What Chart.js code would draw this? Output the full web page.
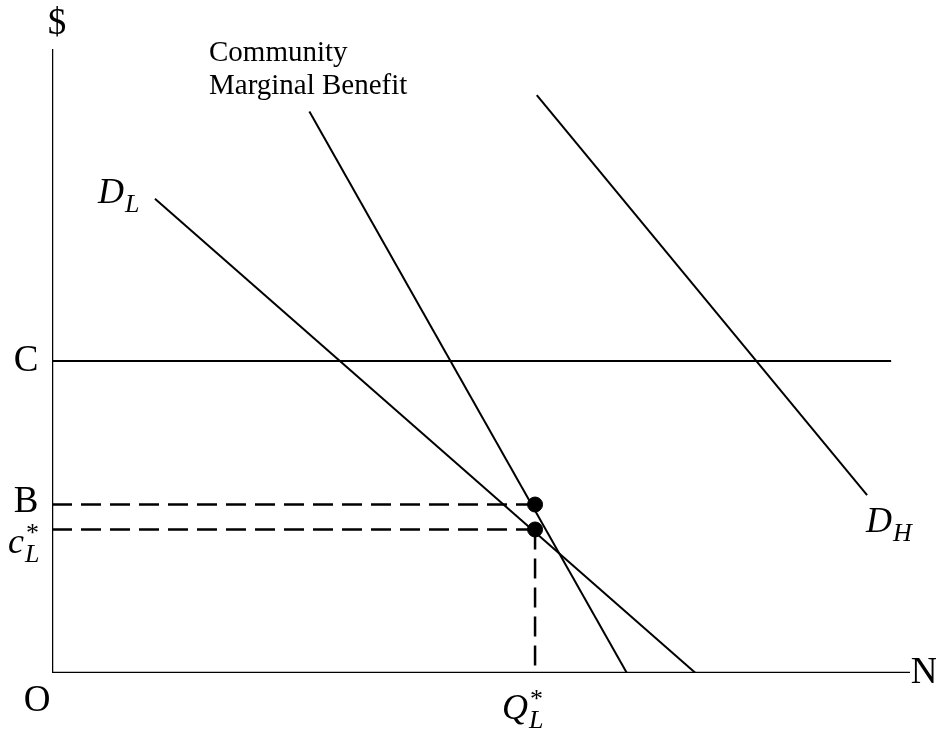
<!DOCTYPE html>
<html>
<head>
<meta charset="utf-8">
<title>Comunidade - benefício marginal</title>
<script src="https://cdn.jsdelivr.net/npm/chart.js@4.4.1/dist/chart.umd.min.js"></script>
<style>
    body { margin: 0; background: #fff; }
    canvas { display: block; }
</style>
</head>
<body>
<canvas id="grafico" width="936" height="732"></canvas>
<script>
// valores do diagrama (escala 0-100 nos dois eixos)
const custoC = 50;
const valorB = 27;
const precoL = 23;
const quantL = 56.3;

const demandaBaixa = [{ x: 12, y: 76 }, { x: 75, y: 0 }];
const beneficioComunidade = [{ x: 30, y: 90 }, { x: 67, y: 0 }];
const demandaAlta = [{ x: 56.5, y: 92.6 }, { x: 95, y: 28.5 }];
const linhaCusto = [{ x: 0, y: custoC }, { x: 97.8, y: custoC }];

const eixoY = [{ x: 0, y: 0 }, { x: 0, y: 100 }];
const eixoX = [{ x: 0, y: 0 }, { x: 100, y: 0 }];

const serif = '"Liberation Serif", "DejaVu Serif", serif';

function linha(dados, extra) {
    return Object.assign({
        data: dados,
        showLine: true,
        borderColor: '#000',
        borderWidth: 2,
        pointRadius: 0,
        fill: false,
        tension: 0
    }, extra || {});
}

// escreve texto com subscrito / sobrescrito (estilo matemático)
function textoMat(ctx, x, y, base, sub, sup, tam) {
    ctx.font = 'italic ' + tam + 'px ' + serif;
    ctx.textBaseline = 'alphabetic';
    ctx.textAlign = 'left';
    ctx.fillText(base, x, y);
    const w = ctx.measureText(base).width;
    const tamSub = Math.round(tam * 0.72);
    ctx.font = 'italic ' + tamSub + 'px ' + serif;
    if (sub) ctx.fillText(sub, x + w + 1, y + tam * 0.25);
    if (sup) {
        ctx.font = tamSub + 'px ' + serif;
        ctx.fillText(sup, x + w + 2, y - tam * 0.32);
    }
}

const rotulos = {
    id: 'rotulos',
    afterDraw(chart) {
        const ctx = chart.ctx;
        const sx = chart.scales.x;
        const sy = chart.scales.y;
        const px = v => sx.getPixelForValue(v);
        const py = v => sy.getPixelForValue(v);

        ctx.save();
        ctx.fillStyle = '#000';

        ctx.font = '37px ' + serif;
        ctx.textAlign = 'center';
        ctx.textBaseline = 'middle';
        ctx.fillText('$', px(0) + 5, 24);
        ctx.fillText('N', px(100) + 14, py(0));
        ctx.fillText('O', px(0) - 15, py(0) + 28);
        ctx.fillText('C', px(0) - 26, py(custoC));
        ctx.fillText('B', px(0) - 26, py(valorB) - 2);

        ctx.font = '29px ' + serif;
        ctx.textAlign = 'left';
        ctx.textBaseline = 'alphabetic';
        ctx.fillText('Community', 209, 61);
        ctx.fillText('Marginal Benefit', 209, 94);

        textoMat(ctx, 98, 203, 'D', 'L', null, 36);
        textoMat(ctx, 866, 532, 'D', 'H', null, 36);
        textoMat(ctx, 8, 553, 'c', 'L', '*', 36);
        textoMat(ctx, 502, 719, 'Q', 'L', '*', 36);

        ctx.restore();
    }
};

new Chart(document.getElementById('grafico'), {
    type: 'scatter',
    data: {
        datasets: [
            linha(eixoY, { borderWidth: 2.5 }),
            linha(eixoX, { borderWidth: 2.5 }),
            linha(linhaCusto),
            linha(demandaBaixa),
            linha(beneficioComunidade),
            linha(demandaAlta),
            linha([{ x: 0, y: valorB }, { x: quantL, y: valorB }], { borderDash: [20, 9], borderWidth: 2.5 }),
            linha([{ x: 0, y: precoL }, { x: quantL, y: precoL }], { borderDash: [20, 9], borderWidth: 2.5 }),
            linha([{ x: quantL, y: precoL }, { x: quantL, y: 0 }], { borderDash: [20, 9], borderWidth: 2.5 }),
            {
                data: [{ x: quantL, y: valorB }, { x: quantL, y: precoL }],
                showLine: false,
                pointRadius: 7.5,
                pointBackgroundColor: '#000',
                pointBorderColor: '#000'
            }
        ]
    },
    options: {
        responsive: false,
        animation: false,
        devicePixelRatio: 1,
        layout: { padding: { left: 52, right: 26, top: 49, bottom: 59 } },
        plugins: {
            legend: { display: false },
            tooltip: { enabled: false }
        },
        scales: {
            x: { type: 'linear', min: 0, max: 100, display: false },
            y: { type: 'linear', min: 0, max: 100, display: false }
        },
        elements: { line: { capBezierPoints: false } }
    },
    plugins: [rotulos]
});
</script>
</body>
</html>
